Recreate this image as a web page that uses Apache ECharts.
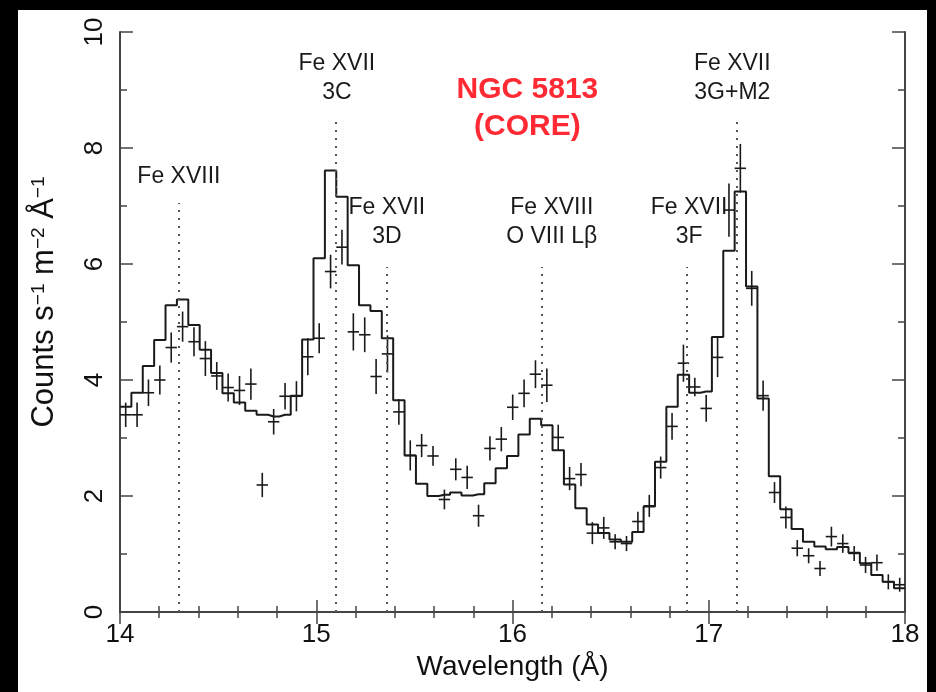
<!DOCTYPE html>
<html>
<head>
<meta charset="utf-8">
<title>NGC 5813 core spectrum</title>
<script src="https://cdn.jsdelivr.net/npm/echarts@6/dist/echarts.min.js"></script>
<style>
  html, body { margin: 0; padding: 0; background: #000; }
  #spec { position: absolute; left: 18px; top: 10px; width: 909px; height: 682px; background: #fff; }
</style>
</head>
<body>
<div id="spec"></div>
<script>
// bin centres (Angstrom)
var lam = [14.029, 14.087, 14.145, 14.203, 14.261, 14.319, 14.377, 14.435, 14.493, 14.551,
  14.609, 14.667, 14.725, 14.783, 14.841, 14.899, 14.957, 15.015, 15.073, 15.131,
  15.189, 15.247, 15.305, 15.363, 15.421, 15.479, 15.537, 15.595, 15.653, 15.711,
  15.769, 15.827, 15.885, 15.943, 16.001, 16.059, 16.117, 16.175, 16.233, 16.291,
  16.349, 16.407, 16.465, 16.523, 16.581, 16.639, 16.697, 16.755, 16.813, 16.871,
  16.929, 16.987, 17.045, 17.103, 17.161, 17.219, 17.277, 17.335, 17.393, 17.451,
  17.509, 17.567, 17.625, 17.683, 17.741, 17.799, 17.857, 17.915, 17.973];
// model (histogram)
var model = [3.54, 3.78, 4.24, 4.69, 5.29, 5.39, 4.95, 4.52, 4.12, 3.77,
  3.61, 3.47, 3.40, 3.37, 3.40, 3.73, 4.70, 6.10, 7.61, 7.16,
  5.98, 5.29, 5.19, 4.72, 3.65, 2.70, 2.21, 2.00, 2.02, 2.06,
  2.01, 2.03, 2.22, 2.48, 2.69, 3.06, 3.33, 3.22, 2.79, 2.20,
  1.79, 1.51, 1.36, 1.25, 1.21, 1.38, 1.82, 2.59, 3.54, 4.09,
  3.78, 3.80, 4.74, 6.23, 7.25, 5.61, 3.68, 2.34, 1.77, 1.43,
  1.21, 1.13, 1.08, 1.12, 1.02, 0.84, 0.64, 0.52, 0.41];
// observed points
var obs = [3.40, 3.40, 3.78, 4.00, 4.56, 4.92, 4.66, 4.37, 4.07, 3.87,
  3.82, 3.93, 2.19, 3.28, 3.72, 3.72, 4.40, 4.72, 5.87, 6.29,
  4.83, 4.78, 4.06, 4.45, 3.45, 2.70, 2.87, 2.69, 1.94, 2.46,
  2.32, 1.66, 2.82, 2.98, 3.53, 3.77, 4.10, 3.91, 3.01, 2.30,
  2.37, 1.36, 1.45, 1.21, 1.18, 1.56, 1.83, 2.49, 3.20, 4.29,
  3.88, 3.51, 4.39, 6.93, 7.65, 5.58, 3.73, 2.06, 1.63, 1.10,
  0.97, 0.75, 1.30, 1.18, 1.01, 0.81, 0.85, 0.52, 0.47];
// 1-sigma errors
var err = [0.21, 0.21, 0.23, 0.25, 0.26, 0.26, 0.25, 0.30, 0.24, 0.24,
  0.25, 0.27, 0.21, 0.22, 0.23, 0.26, 0.32, 0.26, 0.29, 0.30,
  0.32, 0.30, 0.30, 0.32, 0.22, 0.26, 0.20, 0.17, 0.17, 0.19,
  0.20, 0.19, 0.21, 0.21, 0.22, 0.24, 0.24, 0.29, 0.22, 0.20,
  0.20, 0.19, 0.19, 0.13, 0.13, 0.17, 0.19, 0.19, 0.23, 0.32,
  0.16, 0.23, 0.34, 0.46, 0.42, 0.30, 0.26, 0.18, 0.19, 0.14,
  0.13, 0.13, 0.17, 0.16, 0.13, 0.14, 0.14, 0.13, 0.12];

// line identifications
var lineNames = ['Fe XVIII', 'Fe XVII\n3C', 'Fe XVII\n3D', 'Fe XVIII\nO VIII L\u03b2', 'Fe XVII\n3F', 'Fe XVII\n3G+M2'];
var lineLam = [14.30, 15.10, 15.36, 16.15, 16.89, 17.145];
var lineTop = [7.05, 8.54, 5.95, 5.95, 5.95, 8.54];
var labelLam = [14.30, 15.105, 15.36, 16.20, 16.90, 17.12];
var labelY = [7.50, 9.20, 6.72, 6.72, 6.72, 9.20];

var xTicks = [14, 15, 16, 17, 18];
var yTicks = [0, 2, 4, 6, 8, 10];

var halfBin = 0.029;
var font = 'Liberation Sans, Arial, Helvetica, sans-serif';

var stepData = [[14, model[0]]];
for (var i = 0; i < lam.length; i++) stepData.push([lam[i], model[i]]);
stepData.push([18, model[model.length - 1]]);

var crossData = [];
for (var i = 0; i < lam.length; i++) crossData.push([lam[i], obs[i], err[i]]);

var markLines = [];
var labelData = [];
for (var i = 0; i < lineLam.length; i++) {
  markLines.push([{coord: [lineLam[i], 0]}, {coord: [lineLam[i], lineTop[i]]}]);
  labelData.push({value: [labelLam[i], labelY[i]], name: lineNames[i]});
}
labelData.push({
  value: [16.076, 8.69], name: 'NGC 5813\n(CORE)',
  label: {color: '#ff2a33', fontWeight: 'bold', fontSize: 30, lineHeight: 37}
});

function renderCross(params, api) {
  var x = api.value(0), y = api.value(1), e = api.value(2);
  var l = api.coord([x - halfBin, y]), r = api.coord([x + halfBin, y]);
  var t = api.coord([x, y + e]), b = api.coord([x, y - e]);
  var st = {stroke: '#1a1a1a', lineWidth: 1.6};
  return {
    type: 'group',
    children: [
      {type: 'line', shape: {x1: l[0], y1: l[1], x2: r[0], y2: r[1]}, style: st},
      {type: 'line', shape: {x1: t[0], y1: t[1], x2: b[0], y2: b[1]}, style: st}
    ]
  };
}

var axisCol = '#444';
var chart = echarts.init(document.getElementById('spec'));
chart.setOption({
  animation: false,
  textStyle: {fontFamily: font},
  grid: {left: 102, right: 22, top: 22, bottom: 80},
  xAxis: [{
    type: 'value', min: 14, max: 18, interval: 1,
    name: 'Wavelength (\u00c5)', nameLocation: 'middle', nameGap: 38,
    nameTextStyle: {fontSize: 28, color: '#111', fontFamily: font},
    axisLine: {lineStyle: {color: axisCol, width: 2}},
    axisTick: {inside: true, length: 12, lineStyle: {color: axisCol, width: 1.5}},
    minorTick: {show: true, splitNumber: 5, length: 6, lineStyle: {color: axisCol, width: 1.5}},
    axisLabel: {fontSize: 26, color: '#111', margin: 10, fontFamily: font,
      formatter: function (v) { return xTicks.indexOf(v) >= 0 ? String(v) : ''; }},
    splitLine: {show: false}
  }, {
    type: 'value', position: 'top', min: 14, max: 18, interval: 1,
    axisLine: {lineStyle: {color: axisCol, width: 2}},
    axisTick: {inside: true, length: 12, lineStyle: {color: axisCol, width: 1.5}},
    minorTick: {show: true, splitNumber: 5, length: 6, lineStyle: {color: axisCol, width: 1.5}},
    axisLabel: {show: false},
    splitLine: {show: false}
  }],
  yAxis: [{
    type: 'value', min: 0, max: 10, interval: 2,
    name: '{n|Counts s}{s|\u22121}{n| m}{s|\u22122}{n| \u00c5}{s|\u22121}',
    nameLocation: 'middle', nameGap: 60,
    nameTextStyle: {
      padding: [0, 0, 0, 40],
      rich: {
        n: {fontSize: 31, color: '#111', fontFamily: font},
        s: {fontSize: 19, color: '#111', fontFamily: font, verticalAlign: 'top'}
      }
    },
    axisLine: {lineStyle: {color: axisCol, width: 2}},
    axisTick: {inside: true, length: 13, lineStyle: {color: axisCol, width: 1.5}},
    minorTick: {show: true, splitNumber: 2, length: 7, lineStyle: {color: axisCol, width: 1.5}},
    axisLabel: {fontSize: 26, color: '#111', margin: 12, rotate: 90, fontFamily: font,
      formatter: function (v) { return yTicks.indexOf(v) >= 0 ? String(v) : ''; }},
    splitLine: {show: false}
  }, {
    type: 'value', position: 'right', min: 0, max: 10, interval: 2,
    axisLine: {lineStyle: {color: axisCol, width: 2}},
    axisTick: {inside: true, length: 13, lineStyle: {color: axisCol, width: 1.5}},
    minorTick: {show: true, splitNumber: 2, length: 7, lineStyle: {color: axisCol, width: 1.5}},
    axisLabel: {show: false},
    splitLine: {show: false}
  }],
  series: [{
    name: 'model', type: 'line', step: 'middle', data: stepData,
    showSymbol: false, symbol: 'none', z: 3,
    lineStyle: {color: '#1a1a1a', width: 2},
    markLine: {
      silent: true, symbol: 'none', label: {show: false},
      lineStyle: {color: '#555', width: 2, type: [2, 6]},
      data: markLines
    }
  }, {
    name: 'data', type: 'custom', renderItem: renderCross, data: crossData, z: 4,
    clip: true
  }, {
    name: 'labels', type: 'scatter', symbolSize: 0, data: labelData, z: 5, silent: true,
    itemStyle: {opacity: 1},
    label: {show: true, position: 'inside', formatter: '{b}', color: '#1a1a1a', opacity: 1,
      fontSize: 23, lineHeight: 29, fontFamily: font}
  }]
});
</script>
</body>
</html>
